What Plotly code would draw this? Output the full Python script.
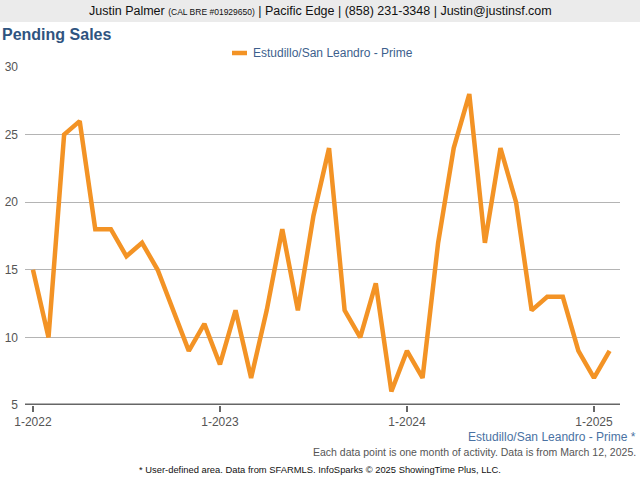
import plotly.graph_objects as go

months = ["2022-01","2022-02","2022-03","2022-04","2022-05","2022-06","2022-07","2022-08","2022-09","2022-10","2022-11","2022-12",
          "2023-01","2023-02","2023-03","2023-04","2023-05","2023-06","2023-07","2023-08","2023-09","2023-10","2023-11","2023-12",
          "2024-01","2024-02","2024-03","2024-04","2024-05","2024-06","2024-07","2024-08","2024-09","2024-10","2024-11","2024-12",
          "2025-01","2025-02"]
pending = [15, 10, 25, 26, 18, 18, 16, 17, 15, 12, 9, 11,
           8, 12, 7, 12, 18, 12, 19, 24, 12, 10, 14, 6,
           9, 7, 17, 24, 28, 17, 24, 20, 12, 13, 13, 9,
           7, 9]
tick_months = ["2022-01", "2023-01", "2024-01", "2025-01"]
tick_labels = ["1-2022", "1-2023", "1-2024", "1-2025"]
y_ticks = [5, 10, 15, 20, 25, 30]
series_name = "Estudillo/San Leandro - Prime"

xi = [months.index(m) for m in months]
tick_idx = [months.index(m) for m in tick_months]

FONT = "Liberation Sans, Arial, sans-serif"
ORANGE = "#F39325"
BLUE = "#2F5480"

L, R, T, B = 25, 20, 67, 75
W = 640 - L - R
H = 480 - T - B
def px(pix):
    return (pix - L) / W
def py(pix):
    return (480 - B - pix) / H

fig = go.Figure()
fig.add_trace(go.Scatter(
    x=xi, y=pending, mode="lines", name=series_name,
    line=dict(color=ORANGE, width=4.5),
    hoverinfo="y", showlegend=False,
))

fig.update_layout(
    width=640, height=480,
    margin=dict(l=L, r=R, t=T, b=B, autoexpand=False),
    paper_bgcolor="white", plot_bgcolor="white",
    font=dict(family=FONT, size=12, color="#555555"),
    showlegend=False,
    xaxis=dict(range=[-0.51, 37.67], tickmode="array", tickvals=tick_idx, ticktext=tick_labels,
               showgrid=False, zeroline=False, showline=False, automargin=False,
               ticks="outside", ticklen=6, tickwidth=2, tickcolor="#666666",
               tickfont=dict(size=12, color="#555555", family=FONT)),
    yaxis=dict(range=[5, 30], tickmode="array", tickvals=y_ticks,
               showgrid=True, gridcolor="#B4B4B4", gridwidth=1,
               zeroline=False, showline=False, ticks="", automargin=False,
               ticklabelstandoff=6,
               tickfont=dict(size=12, color="#555555", family=FONT)),
    shapes=[
        dict(type="rect", xref="paper", yref="paper", x0=px(-5), x1=px(650), y0=py(22), y1=py(-5),
             fillcolor="#EBEBEB", line=dict(width=0), layer="below"),
        dict(type="line", xref="paper", yref="y", x0=0, x1=1, y0=5, y1=5,
             line=dict(color="#666666", width=3)),
        # legend swatch
        dict(type="line", xref="paper", yref="paper", x0=px(232), x1=px(247), y0=py(53), y1=py(53),
             line=dict(color=ORANGE, width=4.5)),
    ],
)

fig.add_annotation(xref="paper", yref="paper", x=px(251), y=py(53), xanchor="left", yanchor="middle",
                   showarrow=False, text=series_name,
                   font=dict(size=12, color="#3D5F8D", family=FONT))
fig.add_annotation(xref="paper", yref="paper", x=px(320), y=py(11), xanchor="center", yanchor="middle",
                   showarrow=False,
                   text="Justin Palmer <span style='font-size:8.5px'>(CAL BRE #01929650)</span> | Pacific Edge | (858) 231-3348 | Justin@justinsf.com",
                   font=dict(size=12.5, color="#111111", family=FONT))
fig.add_annotation(xref="paper", yref="paper", x=px(0), y=py(34), xanchor="left", yanchor="middle",
                   showarrow=False, text="<b>Pending Sales</b>",
                   font=dict(size=16, color=BLUE, family=FONT))
fig.add_annotation(xref="paper", yref="paper", x=px(638), y=py(437), xanchor="right", yanchor="middle",
                   showarrow=False, text=series_name + " *",
                   font=dict(size=12, color="#4A72A3", family=FONT))
fig.add_annotation(xref="paper", yref="paper", x=px(638), y=py(452), xanchor="right", yanchor="middle",
                   showarrow=False, text="Each data point is one month of activity. Data is from March 12, 2025.",
                   font=dict(size=10.5, color="#555555", family=FONT))
fig.add_annotation(xref="paper", yref="paper", x=px(320), y=py(469), xanchor="center", yanchor="middle",
                   showarrow=False, text="* User-defined area. Data from SFARMLS. InfoSparks © 2025 ShowingTime Plus, LLC.",
                   font=dict(size=9.4, color="#111111", family=FONT))

fig.write_html("out.html")
